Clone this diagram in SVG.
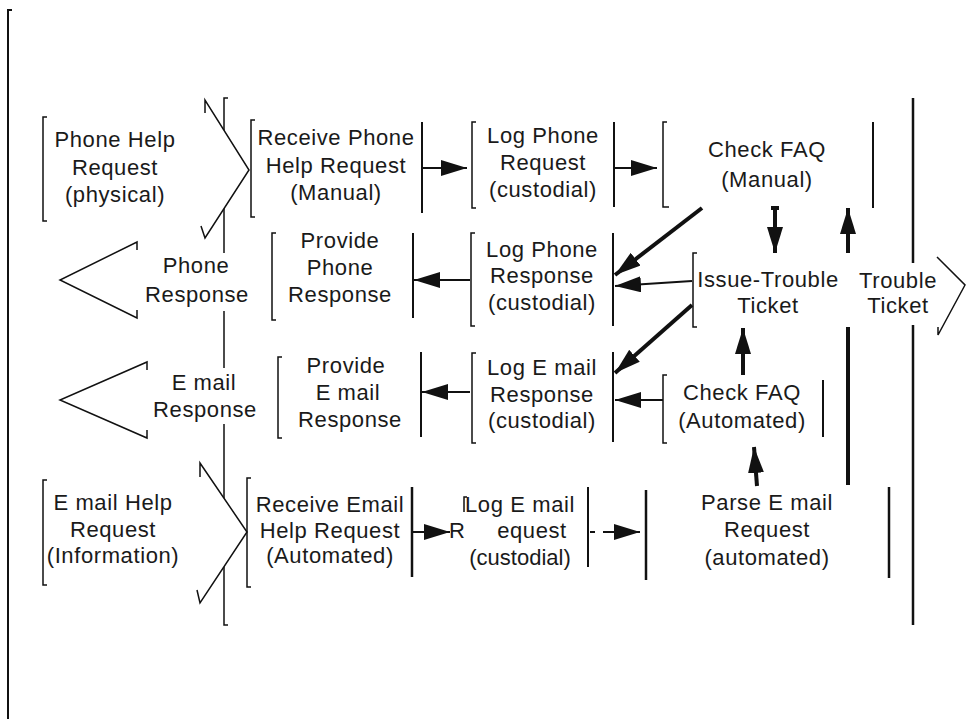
<svg xmlns="http://www.w3.org/2000/svg" width="966" height="719" viewBox="0 0 966 719">
<style>
.t{font-family:"Liberation Sans",Arial,sans-serif;font-size:22px;letter-spacing:0.6px;text-anchor:middle;fill:#1a1a1a}
.br{fill:none;stroke:#111;stroke-width:1.5}
.rl{fill:none;stroke:#111;stroke-width:2}
.chev{fill:#fff;stroke:#111;stroke-width:1.5}
.a{fill:none;stroke:#111;stroke-width:2;marker-end:url(#ah)}
.ak{fill:none;stroke:#111;stroke-width:4;marker-end:url(#ah)}
.ln{fill:none;stroke:#111;stroke-width:1.5}
</style>
<defs>
<marker id="ah" markerUnits="userSpaceOnUse" markerWidth="26" markerHeight="16" viewBox="0 0 26 16" refX="26" refY="8" orient="auto">
<path d="M0,0 L26,8 L0,16 z" fill="#111"/>
</marker>
</defs>
<rect width="966" height="719" fill="#fff"/>

<g id="frame">
<path class="rl" d="M12,10 H8 V719"/>
<path d="M913,98 V263 M913,325 V625" fill="none" stroke="#111" stroke-width="2.5"/>
<path class="ln" d="M228,98 H224 V625 H228"/>
</g>

<g id="connectors">
<line class="a" x1="423" y1="168" x2="467" y2="168"/>
<line class="a" x1="615" y1="168" x2="657" y2="168"/>
<line class="a" x1="470" y1="280" x2="414" y2="280"/>
<line class="a" x1="470" y1="392" x2="422" y2="392"/>
<line class="a" x1="413" y1="532" x2="450" y2="532"/>
<line class="ln" x1="590" y1="532" x2="595" y2="532" style="stroke-width:2"/>
<line class="a" x1="603" y1="532" x2="640" y2="532"/>
<line class="a" x1="692" y1="281" x2="615" y2="286"/>
<line class="a" x1="663" y1="400" x2="615" y2="400"/>
<line class="ak" x1="702" y1="208" x2="615" y2="275"/>
<line class="ak" x1="692" y1="305" x2="615" y2="373"/>
<path class="ak" d="M771,208 H779 M775,208 V253"/>
<line class="ak" x1="743" y1="375" x2="743" y2="328"/>
<line class="ak" x1="757" y1="486" x2="754" y2="447"/>
<path class="ak" d="M848,485 V327 M848,253 V208"/>
</g>

<g id="phone-help-request">
<path class="br" d="M47,117 H43 V221 H47"/>
<text class="t" x="115" y="147">Phone Help</text>
<text class="t" x="115" y="175">Request</text>
<text class="t" x="115" y="202">(physical)</text>
<path class="chev" d="M205,113 V100 L249,170 L205,238 L201,226"/>
</g>

<g id="receive-phone-help-request">
<path class="br" d="M255,120 H251 V217 H255"/>
<line class="rl" x1="422" y1="122" x2="422" y2="213"/>
<text class="t" x="336" y="145">Receive Phone</text>
<text class="t" x="336" y="173">Help Request</text>
<text class="t" x="336" y="200">(Manual)</text>
</g>

<g id="log-phone-request">
<path class="br" d="M476,122 H472 V208 H476"/>
<line class="rl" x1="614" y1="122" x2="614" y2="207"/>
<text class="t" x="543" y="143">Log Phone</text>
<text class="t" x="543" y="170">Request</text>
<text class="t" x="543" y="197">(custodial)</text>
</g>

<g id="check-faq-manual">
<path class="br" d="M667,122 H663 V207 H669"/>
<line class="rl" x1="873" y1="122" x2="873" y2="208"/>
<text class="t" x="767" y="157">Check FAQ</text>
<text class="t" x="767" y="187">(Manual)</text>
</g>

<g id="phone-response">
<path class="chev" d="M137,250 V242 L60,280 L137,318 V310"/>
<rect x="142" y="253" width="112" height="58" fill="#fff"/>
<text class="t" x="196" y="273">Phone</text>
<text class="t" x="197" y="302">Response</text>
</g>

<g id="provide-phone-response">
<path class="br" d="M276,233 H272 V320 H276"/>
<line class="rl" x1="413" y1="233" x2="413" y2="318"/>
<text class="t" x="340" y="248">Provide</text>
<text class="t" x="340" y="275">Phone</text>
<text class="t" x="340" y="302">Response</text>
</g>

<g id="log-phone-response">
<path class="br" d="M475,233 H471 V326 H475"/>
<line class="rl" x1="613" y1="233" x2="613" y2="326"/>
<text class="t" x="542" y="257">Log Phone</text>
<text class="t" x="542" y="283">Response</text>
<text class="t" x="542" y="310">(custodial)</text>
</g>

<g id="issue-trouble-ticket">
<path class="br" d="M697,253 H693 V327 H697"/>
<text class="t" x="768" y="287">Issue-Trouble</text>
<text class="t" x="768" y="313">Ticket</text>
</g>

<g id="trouble-ticket">
<path class="chev" d="M937,257 L965,285 L938,335 V327" style="fill:none"/>
<text class="t" x="898" y="288">Trouble</text>
<text class="t" x="898" y="313">Ticket</text>
</g>

<g id="email-response">
<path class="chev" d="M147,370 V362 L60,400 L147,438 V430"/>
<rect x="150" y="368" width="110" height="56" fill="#fff"/>
<text class="t" x="204" y="390">E mail</text>
<text class="t" x="205" y="417">Response</text>
</g>

<g id="provide-email-response">
<path class="br" d="M282,357 H278 V438 H282"/>
<line class="rl" x1="421" y1="352" x2="421" y2="437"/>
<text class="t" x="346" y="373">Provide</text>
<text class="t" x="348" y="400">E mail</text>
<text class="t" x="350" y="427">Response</text>
</g>

<g id="log-email-response">
<path class="br" d="M476,353 H472 V443 H476"/>
<line class="rl" x1="613" y1="352" x2="613" y2="442"/>
<text class="t" x="542" y="375">Log E mail</text>
<text class="t" x="542" y="402">Response</text>
<text class="t" x="542" y="428">(custodial)</text>
</g>

<g id="check-faq-automated">
<path class="br" d="M667,375 H663 V443 H667"/>
<line class="rl" x1="823" y1="380" x2="823" y2="437"/>
<text class="t" x="742" y="400">Check FAQ</text>
<text class="t" x="742" y="428">(Automated)</text>
</g>

<g id="email-help-request">
<path class="br" d="M47,480 H43 V585 H47"/>
<text class="t" x="113" y="510">E mail Help</text>
<text class="t" x="113" y="537">Request</text>
<text class="t" x="113" y="563">(Information)</text>
<path class="chev" d="M200,477 V463 L247,532 L200,603 L197,590"/>
</g>

<g id="receive-email-help-request">
<path class="br" d="M251,478 H247 V587 H251"/>
<line class="rl" x1="412" y1="487" x2="412" y2="577" style="stroke-width:2.5"/>
<text class="t" x="330" y="512">Receive Email</text>
<text class="t" x="330" y="538">Help Request</text>
<text class="t" x="330" y="563">(Automated)</text>
</g>

<g id="log-email-request">
<text class="t" x="457" y="538" style="letter-spacing:0">R</text>
<path class="br" d="M467,497 H464 V512"/>
<line class="rl" x1="588" y1="487" x2="588" y2="567"/>
<text class="t" x="520" y="512">Log E mail</text>
<text class="t" x="532" y="538">equest</text>
<text class="t" x="520" y="565" style="letter-spacing:0">(custodial)</text>
</g>

<g id="parse-email-request">
<line class="rl" x1="646" y1="490" x2="646" y2="580" style="stroke-width:2.5"/>
<line class="rl" x1="889" y1="487" x2="889" y2="578" style="stroke-width:2.5"/>
<text class="t" x="767" y="510">Parse E mail</text>
<text class="t" x="767" y="537">Request</text>
<text class="t" x="767" y="565">(automated)</text>
</g>
</svg>
